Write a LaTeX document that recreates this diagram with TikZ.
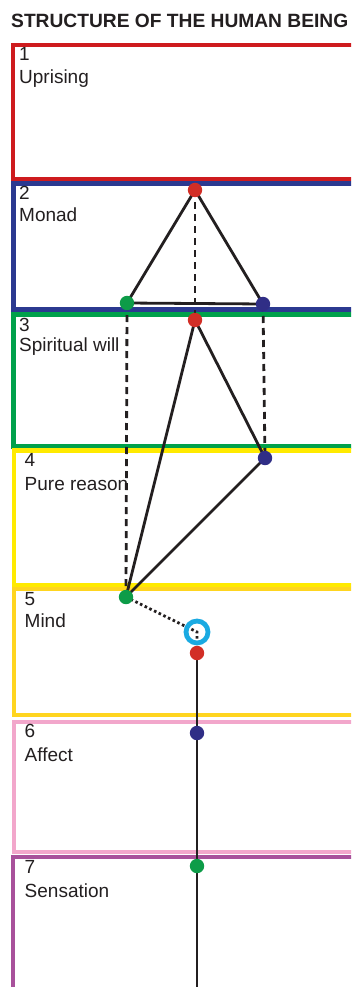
\documentclass[tikz,border=0pt]{standalone}
\usepackage{fontspec}
\setmainfont{Liberation Sans}
\definecolor{bred}{HTML}{CE1B1E}
\definecolor{bnavy}{HTML}{2B3990}
\definecolor{bgreen}{HTML}{00A14B}
\definecolor{byellow}{HTML}{FFEA00}
\definecolor{bgold}{HTML}{FFD51F}
\definecolor{bpink}{HTML}{F2A7CB}
\definecolor{bpurple}{HTML}{A8519B}
\definecolor{dred}{HTML}{D22E26}
\definecolor{dnavy}{HTML}{302E86}
\definecolor{dgreen}{HTML}{0D9C48}
\definecolor{ringc}{HTML}{1AAAE2}
\definecolor{ink}{HTML}{231F20}
\begin{document}
\begin{tikzpicture}[x=1pt,y=-1pt,
  band/.style={line width=4.6pt},
  lbl/.style={anchor=base west, inner sep=0pt, font=\fontsize{19}{22}\selectfont, text=ink},
  dot/.style={circle, inner sep=0pt, minimum size=14pt},
  solidline/.style={draw=ink, line width=2.8pt},
  dashline/.style={draw=ink, line width=2.8pt, dash pattern=on 7pt off 5pt},
  dotline/.style={draw=ink, line width=2.8pt, dash pattern=on 2.6pt off 2.6pt},
]
\useasboundingbox (0,0) rectangle (351,987);
\clip (0,0) rectangle (351,987);
\fill[white] (0,0) rectangle (351,987);

\draw[band, draw=bred]    (13,45)    rectangle (400,179);
\draw[band, draw=bnavy]   (13.5,183.5) rectangle (400,309.5);
\draw[band, draw=bgreen]  (13.5,314.5) rectangle (400,446.5);
\draw[band, draw=byellow] (14,450.5) rectangle (400,585);
\draw[band, draw=bgold]   (14,589)   rectangle (400,715);
\draw[band, draw=bpink]   (14,722)   rectangle (400,852);
\draw[band, draw=bpurple] (13,857)   rectangle (400,1010);

\node[anchor=base west, inner sep=0pt, font=\bfseries\fontsize{19.2}{22}\selectfont, text=ink] (title) at (11,28) {STRUCTURE OF THE HUMAN BEING};

\node[lbl] (num1) at (19,61) {1};   \node[lbl] (lab1) at (19,84) {Uprising};
\node[lbl] (num2) at (19,200) {2};  \node[lbl] (lab2) at (19,221) {Monad};
\node[lbl] (num3) at (19,331) {3};  \node[lbl] (lab3) at (19,351) {Spiritual will};
\node[lbl] (num4) at (24.5,466) {4};  \node[lbl] (lab4) at (24.5,490) {Pure reason};
\node[lbl] (num5) at (24.5,605) {5};  \node[lbl] (lab5) at (24.5,627) {Mind};
\node[lbl] (num6) at (24.5,737) {6};  \node[lbl] (lab6) at (24.5,761) {Affect};
\node[lbl] (num7) at (24.5,873) {7};  \node[lbl] (lab7) at (24.5,897) {Sensation};

% dot positions (filled after the connectors are drawn)
\node[dot] (r2) at (195,190) {};
\node[dot] (g2) at (127,303) {};
\node[dot] (n2) at (263,304) {};
\node[dot] (r3) at (195,320) {};
\node[dot] (n4) at (265,458) {};
\node[dot] (g5) at (126,597) {};
\node[circle, inner sep=0pt, minimum size=22pt] (ring) at (197,632) {};
\node[dot] (r5) at (197,653) {};
\node[dot] (n6) at (197,733) {};
\node[dot] (g7) at (197,866) {};
\coordinate (bottom) at (197,1000);

\draw[solidline] (r2.center) -- (g2.center);
\draw[solidline] (r2.center) -- (n2.center);
\draw[solidline] (g2.center) -- (n2.center);
\draw[solidline] (r3.center) -- (n4.center);
\draw[solidline] (r3.center) -- (g5.center);
\draw[solidline] (n4.center) -- (g5.center);
\draw[solidline] (r5.center) -- (n6.center) -- (g7.center) -- (bottom);
\draw[dashline] (r2.center) -- (r3.center);
\draw[dashline] (g2.center) -- (g5.center);
\draw[dashline] (n2.center) -- (n4.center);
\draw[dotline] (g5.center) -- (ring.center) -- (r5.center);

\fill[dred]   (r2) circle (7.2);
\fill[dgreen] (g2) circle (7.2);
\fill[dnavy]  (n2) circle (7.2);
\fill[dred]   (r3) circle (7.2);
\fill[dnavy]  (n4) circle (7.2);
\fill[dgreen] (g5) circle (7.2);
\draw[ringc, line width=4.8pt] (ring) circle (11);
\fill[dred]   (r5) circle (7.2);
\fill[dnavy]  (n6) circle (7.2);
\fill[dgreen] (g7) circle (7.2);
\end{tikzpicture}
\end{document}
